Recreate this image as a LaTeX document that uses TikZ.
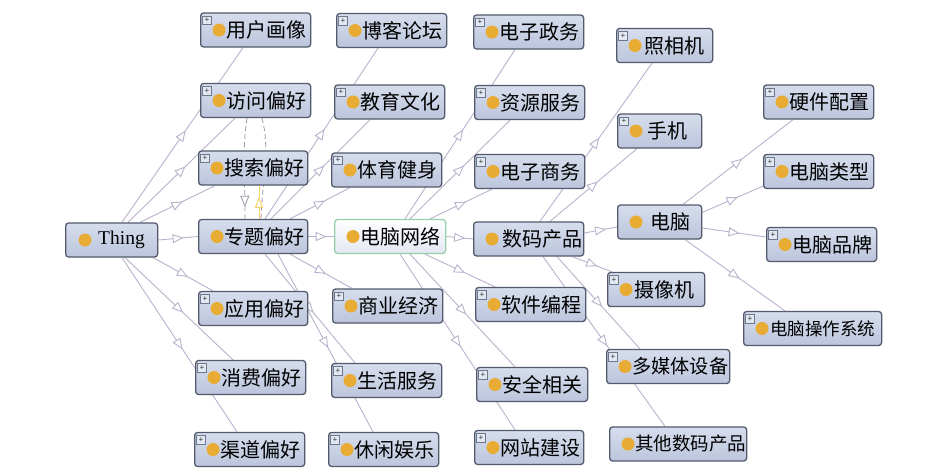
\documentclass[tikz,border=0pt]{standalone}
\usepackage{fontspec}
\setmainfont{Liberation Serif}
\newfontfamily\cjk{Noto Sans CJK SC}
\usetikzlibrary{arrows.meta,decorations.markings}
\pgfdeclarelayer{bg}
\pgfdeclarelayer{paper}
\pgfsetlayers{paper,bg,main}
\definecolor{dotc}{RGB}{232,172,52}
\definecolor{ecol}{RGB}{185,178,205}
\definecolor{bcol}{RGB}{82,90,108}
\definecolor{btop}{RGB}{214,221,237}
\definecolor{bmid}{RGB}{246,248,252}
\definecolor{bbot}{RGB}{188,197,220}
\definecolor{gcol}{RGB}{150,208,170}
\definecolor{ycol}{RGB}{246,212,100}
\definecolor{pcol}{RGB}{110,120,140}
\definecolor{pfill}{RGB}{226,231,241}
\tikzset{
  box/.style={rounded corners=3pt, draw=bcol, line width=1.3pt,
    top color=btop, middle color=bmid, bottom color=bbot,
    minimum height=34pt, inner sep=0pt},
  greenbox/.style={draw=gcol, top color=white, middle color=white, bottom color=btop!70!white},
  lbl/.style={font=\cjk\fontsize{20}{20}\selectfont, inner sep=0pt, text=black},
  plusb/.style={draw=pcol, fill=pfill, minimum size=8.5pt, inner sep=0pt, line width=0.6pt,
    font=\fontsize{8.5}{8.5}\selectfont},
  conn/.style={color=ecol, line width=0.9pt, postaction={decorate},
    decoration={markings, mark=at position #1 with {\arrow[xshift=5.5pt]{Triangle[length=11pt,width=9pt,fill=white]}}}},
  conn/.default=0.5,
  dashconn/.style={color=ecol!85!black, line width=0.8pt, dash pattern=on 5pt off 3pt},
}
\newcommand\cls[7]{%
  \node[box,anchor=west,minimum width=#4pt,#7] (#1) at (#2,#3) {};
  \fill[dotc] ([xshift=19pt]#1.west) circle (6.5pt);
  \node[lbl,anchor=west] (#1t) at ([xshift=#6pt]#1.west) {#5};
}
\newcommand\plusmark[1]{\node[plusb] (#1p) at ([xshift=7pt,yshift=-8pt]#1.north west) {+};}
\begin{document}
\begin{tikzpicture}[x=1pt,y=-1pt]
\begin{pgfonlayer}{paper}
\fill[white] (0,0) rectangle (945,472);
\end{pgfonlayer}
\useasboundingbox (0,0) rectangle (945,472);
% Thing
\node[box,anchor=west,minimum width=92pt] (thing) at (65,240) {};
\fill[dotc] ([xshift=20pt]thing.west) circle (6.5pt);
\node[anchor=west,inner sep=0pt,font=\fontsize{19.5}{19.5}\selectfont] (thingt) at ([xshift=33pt]thing.west) {Thing};
% column 2
\cls{yhhx}{200}{30}{110}{用户画像}{26}{}\plusmark{yhhx}
\cls{fwph}{200}{100.5}{110}{访问偏好}{26}{}\plusmark{fwph}
\cls{ssph}{198}{168}{109}{搜索偏好}{26}{}\plusmark{ssph}
\cls{ztph}{198}{236.5}{109}{专题偏好}{26}{}
\cls{yyph}{198}{308.5}{109}{应用偏好}{26}{}\plusmark{yyph}
\cls{xfph}{195}{377.5}{110}{消费偏好}{26}{}\plusmark{xfph}
\cls{qdph}{194}{449.5}{110}{渠道偏好}{26}{}\plusmark{qdph}
% column 3
\cls{bklt}{336}{30.5}{110}{博客论坛}{26}{}\plusmark{bklt}
\cls{jywh}{334}{102}{110}{教育文化}{26}{}\plusmark{jywh}
\cls{tyjs}{331}{170}{110}{体育健身}{26}{}\plusmark{tyjs}
\cls{dnwl}{334}{236.5}{111}{电脑网络}{26}{greenbox}
\cls{syjj}{332}{306}{110}{商业经济}{26}{}\plusmark{syjj}
\cls{shfw}{331}{380.5}{110}{生活服务}{26}{}\plusmark{shfw}
\cls{xxyl}{328}{449.5}{110}{休闲娱乐}{26}{}\plusmark{xxyl}
% column 4
\cls{dzzw}{473}{32}{110}{电子政务}{26}{}\plusmark{dzzw}
\cls{zyfw}{474}{102.5}{110}{资源服务}{26}{}\plusmark{zyfw}
\cls{dzsw}{474}{171.5}{110}{电子商务}{26}{}\plusmark{dzsw}
\cls{smcp}{473}{239}{110}{数码产品}{29}{}
\cls{rjbc}{475}{304.5}{110}{软件编程}{26}{}\plusmark{rjbc}
\cls{aqxg}{476}{384.5}{111}{安全相关}{26}{}\plusmark{aqxg}
\cls{wzjs}{474}{447.5}{109}{网站建设}{26}{}\plusmark{wzjs}
% column 5
\cls{zxj}{616}{45.5}{96}{照相机}{28}{}\plusmark{zxj}
\cls{sj}{617}{131}{84}{手机}{30}{}\plusmark{sj}
\cls{dn}{617}{222}{84}{电脑}{33}{}
\cls{sxj}{607}{289.5}{97}{摄像机}{27}{}\plusmark{sxj}
\cls{dmtsb}{606}{366.5}{123}{{\fontsize{19.2}{19.2}\selectfont 多媒体设备}}{26}{}\plusmark{dmtsb}
\cls{qtsmcp}{609}{444}{137}{{\fontsize{18.5}{18.5}\selectfont 其他数码产品}}{26}{}
% column 6
\cls{yjpz}{763}{102}{110}{硬件配置}{26}{}\plusmark{yjpz}
\cls{dnlx}{763}{171.5}{110}{电脑类型}{26}{}\plusmark{dnlx}
\cls{dnpp}{766}{244.5}{110}{电脑品牌}{26}{}\plusmark{dnpp}
\cls{dnczxt}{743}{328.5}{138}{{\fontsize{17.5}{17.5}\selectfont 电脑操作系统}}{27}{}\plusmark{dnczxt}
\begin{pgfonlayer}{bg}
% Thing
\draw[conn] (thing.east) -- (ztph.west);
\draw[conn] ([xshift=57pt]thing.north west) -- ([xshift=43pt]yhhx.south west);
\draw[conn] ([xshift=63pt]thing.north west) -- ([xshift=35pt]fwph.south west);
\draw[conn] ([xshift=75pt]thing.north west) -- ([xshift=17pt]ssph.south west);
\draw[conn] ([xshift=-5pt]thing.south east) -- ([xshift=15pt]yyph.north west);
\draw[conn] ([xshift=60pt]thing.south west) -- ([xshift=38pt]xfph.north west);
\draw[conn] ([xshift=57pt]thing.south west) -- ([xshift=43pt]qdph.north west);
% zhuanti
\draw[conn] ([xshift=67pt]ztph.north west) -- ([xshift=42pt]bklt.south west);
\draw[conn] ([xshift=73pt]ztph.north west) -- ([xshift=36pt]jywh.south west);
\draw[conn] ([xshift=92pt]ztph.north west) -- ([xshift=19pt]tyjs.south west);
\draw[conn] (ztph.east) -- (dnwl.west);
\draw[conn] ([xshift=92pt]ztph.south west) -- ([xshift=20pt]syjj.north west);
\draw[conn] ([xshift=67pt]ztph.south west) -- ([xshift=24pt]shfw.north west);
\draw[conn] ([xshift=80pt]ztph.south west) -- ([xshift=45pt]xxyl.north west);
% diannao wangluo
\draw[conn] ([xshift=71pt]dnwl.north west) -- ([xshift=42pt]dzzw.south west);
\draw[conn] ([xshift=76pt]dnwl.north west) -- ([xshift=36pt]zyfw.south west);
\draw[conn] ([xshift=96pt]dnwl.north west) -- ([xshift=18pt]dzsw.south west);
\draw[conn] (dnwl.east) -- (smcp.west);
\draw[conn] ([xshift=91pt]dnwl.south west) -- ([xshift=20pt]rjbc.north west);
\draw[conn] ([xshift=76pt]dnwl.south west) -- ([xshift=39pt]aqxg.north west);
\draw[conn] ([xshift=66pt]dnwl.south west) -- ([xshift=41pt]wzjs.north west);
% shuma chanpin
\draw[conn] ([xshift=67pt]smcp.north west) -- ([xshift=36pt]zxj.south west);
\draw[conn] ([xshift=77pt]smcp.north west) -- ([xshift=20pt]sj.south west);
\draw[conn] ([yshift=6pt]smcp.east) -- ([yshift=-5pt]dn.west);
\draw[conn] ([xshift=-12pt]smcp.south east) -- ([xshift=5pt]sxj.north west);
\draw[conn] ([xshift=84pt]smcp.south west) -- ([xshift=34pt]dmtsb.north west);
\draw[conn] ([xshift=70pt]smcp.south west) -- ([xshift=56pt]qtsmcp.north west);
% diannao
\draw[conn] ([xshift=66pt]dn.north west) -- ([xshift=30pt]yjpz.south west);
\draw[conn] ([yshift=-8pt]dn.north east) -- ([yshift=3pt]dnlx.south west);
\draw[conn] ([yshift=-6pt]dn.east) -- ([yshift=7.5pt]dnpp.west);
\draw[conn] ([xshift=68pt]dn.south west) -- ([xshift=42pt]dnczxt.north west);
% dashed property links
\draw[dashconn, postaction={decorate}, decoration={markings, mark=at position 0.88 with {\arrow[solid]{Triangle[length=11pt,width=9pt,fill=white]}}}]
  ([xshift=47pt]fwph.south west) .. controls +(-5,35) and +(0,-45) .. ([xshift=47pt]ztph.north west);
\draw[dashconn] ([xshift=62pt]fwph.south west) .. controls +(8,30) and +(2,-45) .. ([xshift=63pt]ztph.north west);
\draw[color=ycol, line width=0.9pt, postaction={decorate},
  decoration={markings, mark=at position 0.5 with {\arrow[xshift=5.5pt]{Triangle[length=11pt,width=8pt,fill=white]}}}]
  ([xshift=61pt]ztph.north west) -- ([xshift=61pt]ssph.south west);
\end{pgfonlayer}
\end{tikzpicture}
\end{document}
